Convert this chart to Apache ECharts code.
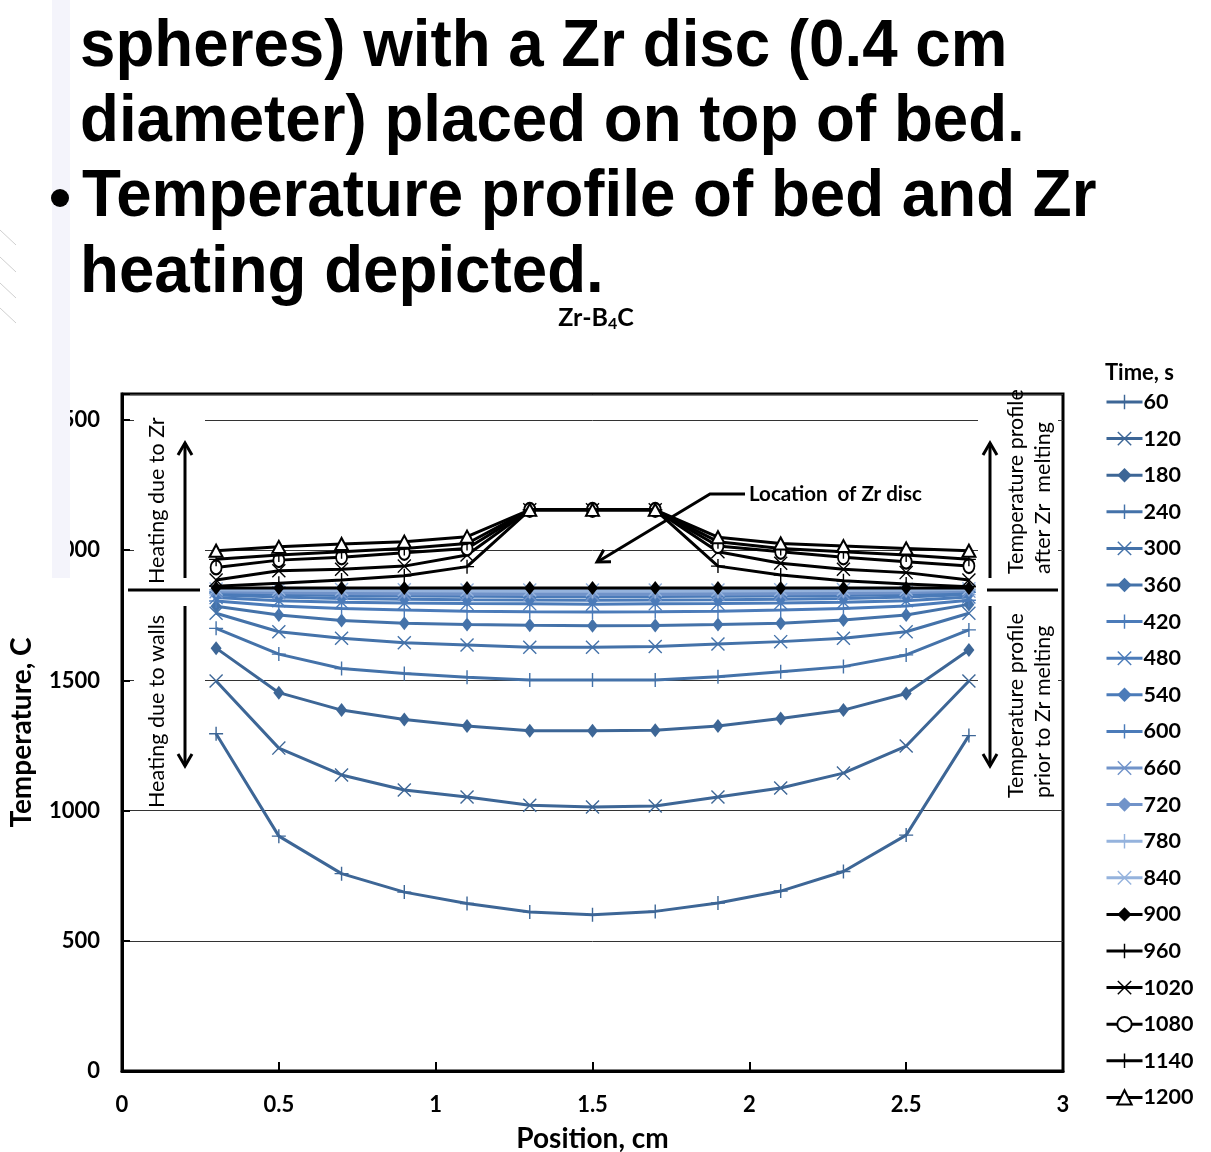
<!DOCTYPE html>
<html>
<head>
<meta charset="utf-8">
<script src="https://cdn.jsdelivr.net/npm/echarts@6/dist/echarts.min.js"></script>
<style>
  html, body { margin: 0; padding: 0; background: #fff; }
  #chart { width: 1211px; height: 1152px; }
</style>
</head>
<body>
<div id="chart"></div>
<script>
// Radial positions of the thermocouples across the bed (cm)
const positions = [0.3, 0.5, 0.7, 0.9, 1.1, 1.3, 1.5, 1.7, 1.9, 2.1, 2.3, 2.5, 2.7];

// Temperature profiles (C) at each time (s)
const t60   = [1295, 902, 758, 687, 643, 611, 600, 613, 645, 691, 766, 906, 1288];
const t120  = [1498, 1240, 1137, 1079, 1052, 1021, 1014, 1018, 1052, 1087, 1144, 1248, 1498];
const t180  = [1624, 1453, 1386, 1350, 1325, 1307, 1307, 1309, 1325, 1354, 1386, 1450, 1617];
const t240  = [1700, 1601, 1546, 1527, 1512, 1502, 1502, 1502, 1514, 1533, 1553, 1598, 1694];
const t300  = [1758, 1687, 1662, 1645, 1636, 1627, 1627, 1630, 1640, 1649, 1662, 1687, 1758];
const t360  = [1785, 1751, 1730, 1720, 1715, 1712, 1710, 1711, 1715, 1720, 1732, 1751, 1792];
const t420  = [1805, 1786, 1776, 1770, 1766, 1764, 1763, 1764, 1766, 1770, 1776, 1786, 1808];
const t480  = [1818, 1806, 1800, 1797, 1795, 1794, 1793, 1794, 1795, 1797, 1800, 1806, 1820];
const t540  = [1828, 1820, 1815, 1812, 1810, 1809, 1808, 1809, 1810, 1812, 1815, 1820, 1830];
const t600  = [1836, 1830, 1826, 1824, 1823, 1822, 1821, 1822, 1823, 1824, 1826, 1830, 1838];
const t660  = [1841, 1837, 1834, 1832, 1831, 1830, 1830, 1830, 1831, 1832, 1834, 1837, 1843];
const t720  = [1845, 1842, 1840, 1839, 1838, 1837, 1837, 1837, 1838, 1839, 1840, 1842, 1847];
const t780  = [1848, 1846, 1845, 1844, 1843, 1842, 1842, 1842, 1843, 1844, 1845, 1846, 1850];
const t840  = [1851, 1850, 1849, 1848, 1847, 1847, 1847, 1847, 1847, 1848, 1849, 1850, 1852];
const t900  = [1855, 1855, 1855, 1855, 1855, 1855, 1855, 1855, 1855, 1855, 1855, 1855, 1855];
const t960  = [1862, 1873, 1886, 1902, 1937, 2155, 2155, 2155, 1939, 1905, 1883, 1870, 1860];
const t1020 = [1886, 1921, 1927, 1939, 1982, 2155, 2155, 2155, 1994, 1950, 1927, 1914, 1886];
const t1080 = [1934, 1962, 1973, 1990, 2007, 2155, 2155, 2155, 2016, 1994, 1973, 1956, 1939];
const t1140 = [1965, 1982, 1994, 2007, 2026, 2155, 2155, 2155, 2033, 2007, 1994, 1982, 1965];
const t1200 = [1998, 2013, 2024, 2033, 2052, 2155, 2155, 2155, 2050, 2026, 2016, 2007, 1998];

const timeLabels = ['60', '120', '180', '240', '300', '360', '420', '480', '540', '600',
                    '660', '720', '780', '840', '900', '960', '1020', '1080', '1140', '1200'];
const profiles = [t60, t120, t180, t240, t300, t360, t420, t480, t540, t600,
                  t660, t720, t780, t840, t900, t960, t1020, t1080, t1140, t1200];

// Marker shapes
const PLUS = 'path://M9,0h2v9h9v2h-9v9h-2v-9h-9v-2h9z';
const CROSS = 'path://M0,1.4L1.4,0L10,8.6L18.6,0L20,1.4L11.4,10L20,18.6L18.6,20L10,11.4L1.4,20L0,18.6L8.6,10z';

// Line colour and marker per time step
const styles = [
  ['#3d6696', PLUS], ['#3d6696', CROSS], ['#3d6696', 'diamond'],
  ['#4472a9', PLUS], ['#4472a9', CROSS], ['#4472a9', 'diamond'],
  ['#4b7bb9', PLUS], ['#4b7bb9', CROSS], ['#4b7bb9', 'diamond'], ['#4b7bb9', PLUS],
  ['#7193c9', CROSS], ['#7193c9', 'diamond'],
  ['#95b3dd', PLUS], ['#95b3dd', CROSS],
  ['#000000', 'diamond'], ['#000000', PLUS], ['#000000', CROSS],
  ['#000000', 'emptyCircle'], ['#000000', PLUS], ['#000000', 'emptyTriangle']
];

function markerSize(sym) {
  if (sym === 'diamond') return [11, 14];
  if (sym === 'emptyCircle') return [11, 14];
  if (sym === 'emptyTriangle') return [13, 12];
  return 14;
}

const series = profiles.map((arr, i) => {
  const [color, sym] = styles[i];
  const hollow = sym === 'emptyCircle' || sym === 'emptyTriangle';
  return {
    name: timeLabels[i],
    type: 'line',
    data: positions.map((x, k) => [x, arr[k]]),
    symbol: sym,
    symbolSize: markerSize(sym),
    showAllSymbol: true,
    lineStyle: { color: color, width: 3 },
    itemStyle: { color: color, borderColor: color, borderWidth: hollow ? 1.3 : 0 },
    emphasis: { disabled: true },
    z: 2 + i * 0.01
  };
});

const FONT = 'Lato, "Liberation Sans", sans-serif';
const SLIDE_FONT = '"Liberation Sans", Arial, sans-serif';

function arrow(x, y1, y2) {
  const dir = y2 < y1 ? 1 : -1;
  return [
    { type: 'line', shape: { x1: x, y1: y1, x2: x, y2: y2 }, style: { stroke: '#000', lineWidth: 3 }, z: 110 },
    { type: 'polyline', shape: { points: [[x - 7, y2 + dir * 12], [x, y2], [x + 7, y2 + dir * 12]] },
      style: { stroke: '#000', lineWidth: 3, fill: null }, z: 110 }
  ];
}

function vtext(text, x, y) {
  return {
    type: 'text', x: x, y: y, rotation: Math.PI / 2, z: 110,
    style: { text: text, font: '21.5px ' + FONT, fill: '#000', align: 'left', verticalAlign: 'middle' }
  };
}

function slideLine(text, x, y) {
  return {
    type: 'text', x: x, y: y, scaleX: 0.965, z: 120,
    style: { text: text, font: 'bold 66px ' + SLIDE_FONT, fill: '#000', align: 'left', verticalAlign: 'middle' }
  };
}

const graphics = [
  // slide panel on the left edge
  { type: 'rect', shape: { x: 0, y: 0, width: 70, height: 578 }, style: { fill: '#ffffff' }, z: 115 },
  { type: 'rect', shape: { x: 52, y: 0, width: 18, height: 578 }, style: { fill: '#f4f4fb' }, z: 116 },
  { type: 'line', shape: { x1: 0, y1: 230, x2: 16, y2: 245 }, style: { stroke: '#cfcfcf', lineWidth: 1 }, z: 117 },
  { type: 'line', shape: { x1: 0, y1: 257, x2: 16, y2: 272 }, style: { stroke: '#cfcfcf', lineWidth: 1 }, z: 117 },
  { type: 'line', shape: { x1: 0, y1: 283, x2: 16, y2: 298 }, style: { stroke: '#cfcfcf', lineWidth: 1 }, z: 117 },
  { type: 'line', shape: { x1: 0, y1: 308, x2: 16, y2: 323 }, style: { stroke: '#cfcfcf', lineWidth: 1 }, z: 117 },

  // slide bullet text
  slideLine('spheres) with a Zr disc (0.4 cm', 80, 48),
  slideLine('diameter) placed on top of bed.', 80, 123),
  slideLine('Temperature profile of bed and Zr', 82, 198),
  slideLine('heating depicted.', 80, 274),
  { type: 'circle', shape: { cx: 60, cy: 198, r: 9 }, style: { fill: '#000' }, z: 120 },

  // chart title
  {
    type: 'text', x: 596, y: 318, z: 110,
    style: {
      text: '{b|Zr-B}{s|4}{b|C}', align: 'center', verticalAlign: 'middle',
      rich: {
        b: { font: 'bold 25px ' + FONT, fill: '#000' },
        s: { font: 'bold 16px ' + FONT, fill: '#000', padding: [12, 0, 0, 0] }
      }
    }
  },

  // annotation panels inside the plot
  { type: 'rect', shape: { x: 134, y: 397, width: 71, height: 410 }, style: { fill: '#fff' }, z: 100 },
  { type: 'rect', shape: { x: 978, y: 397, width: 80, height: 410 }, style: { fill: '#fff' }, z: 100 },

  { type: 'line', shape: { x1: 128, y1: 590, x2: 200, y2: 590 }, style: { stroke: '#000', lineWidth: 3 }, z: 110 },
  { type: 'line', shape: { x1: 987, y1: 590, x2: 1058, y2: 590 }, style: { stroke: '#000', lineWidth: 3 }, z: 110 },
  ...arrow(185, 578, 443),
  ...arrow(185, 606, 766),
  ...arrow(990, 578, 443),
  ...arrow(990, 606, 766),
  vtext('Heating due to Zr', 157, 584),
  vtext('Heating due to walls', 157, 808),
  vtext('Temperature profile', 1016, 574),
  vtext('after Zr  melting', 1043, 574),
  vtext('Temperature profile', 1016, 798),
  vtext('prior to Zr melting', 1043, 798),

  // Zr disc pointer
  {
    type: 'text', x: 749, y: 494, z: 110,
    style: { text: 'Location  of Zr disc', font: 'bold 20.5px ' + FONT, fill: '#000', align: 'left', verticalAlign: 'middle' }
  },
  { type: 'polyline', shape: { points: [[745, 494], [710, 494], [599, 561]] }, style: { stroke: '#000', lineWidth: 3, fill: null }, z: 110 },
  { type: 'polyline', shape: { points: [[611, 561.7], [597, 562], [603.8, 549.7]] }, style: { stroke: '#000', lineWidth: 3, fill: null }, z: 110 },

  // legend heading
  {
    type: 'text', x: 1105, y: 373, z: 110,
    style: { text: 'Time, s', font: 'bold 22px ' + FONT, fill: '#000', align: 'left', verticalAlign: 'middle' }
  }
];

const chart = echarts.init(document.getElementById('chart'), null, { renderer: 'canvas' });
chart.setOption({
  animation: false,
  backgroundColor: '#fff',
  grid: {
    left: 122, right: 148, top: 394, bottom: 81,
    containLabel: false, outerBoundsMode: 'none',
    show: true, borderColor: '#000', borderWidth: 3, backgroundColor: 'transparent'
  },
  xAxis: {
    type: 'value', min: 0, max: 3, interval: 0.5,
    name: 'Position, cm', nameLocation: 'middle', nameGap: 54,
    nameTextStyle: { fontFamily: FONT, fontWeight: 'bold', fontSize: 28, color: '#000' },
    axisLine: { show: true, lineStyle: { color: '#000', width: 3 } },
    axisTick: { show: true, inside: true, length: 9, lineStyle: { color: '#000', width: 2 } },
    axisLabel: { color: '#000', fontFamily: FONT, fontWeight: 'bold', fontSize: 22, margin: 23 },
    splitLine: { show: false }
  },
  yAxis: {
    type: 'value', min: 0, max: 2600, interval: 500,
    name: 'Temperature, C', nameLocation: 'middle', nameGap: 86,
    nameTextStyle: { fontFamily: FONT, fontWeight: 'bold', fontSize: 28, color: '#000' },
    axisLine: { show: true, lineStyle: { color: '#000', width: 3 } },
    axisTick: { show: true, inside: true, length: 8, lineStyle: { color: '#000', width: 2 } },
    axisLabel: {
      color: '#000', fontFamily: FONT, fontWeight: 'bold', fontSize: 22, margin: 22,
      formatter: v => (v % 500 === 0 ? String(v) : '')
    },
    splitLine: { show: true, lineStyle: { color: '#333', width: 1 } }
  },
  legend: {
    orient: 'vertical', left: 1105, top: 391, padding: 0,
    itemWidth: 36, itemHeight: 18, itemGap: 14.6,
    lineStyle: { width: 3 },
    textStyle: { color: '#000', fontFamily: FONT, fontWeight: 'bold', fontSize: 21.5, lineHeight: 22, padding: [0, 0, 0, -4] },
    data: timeLabels,
    selectedMode: false
  },
  graphic: graphics,
  series: series
});
</script>
</body>
</html>
